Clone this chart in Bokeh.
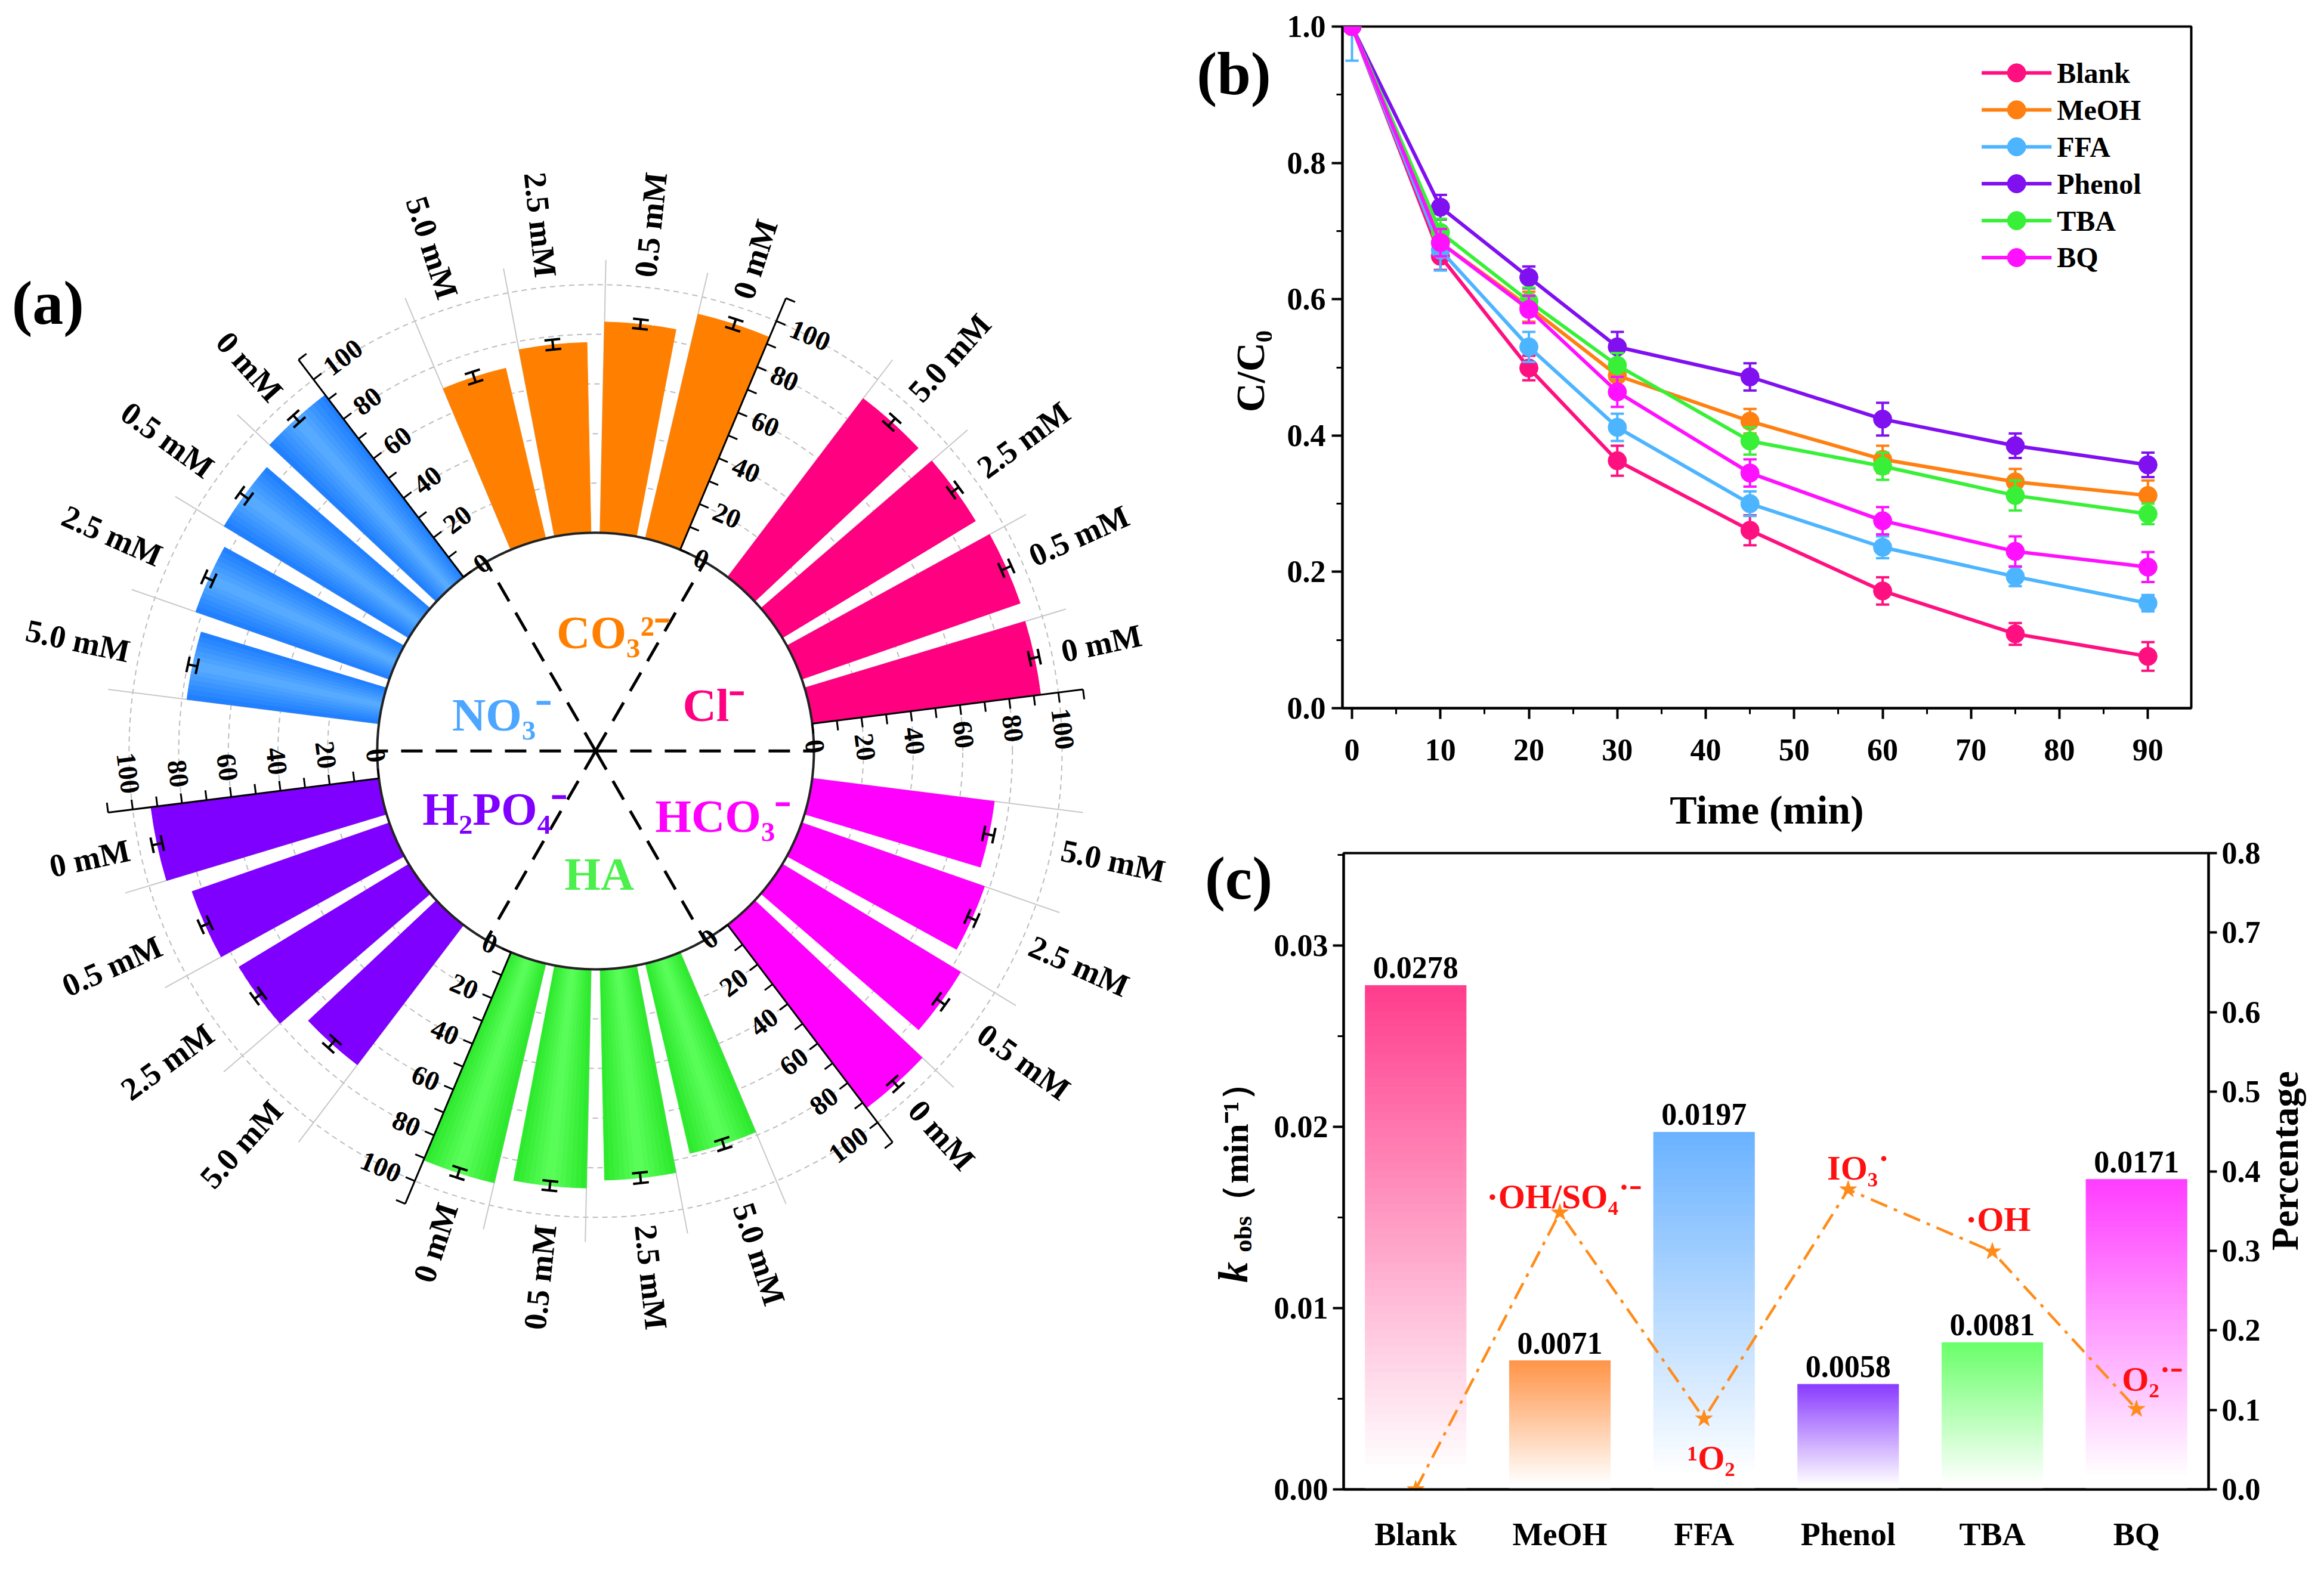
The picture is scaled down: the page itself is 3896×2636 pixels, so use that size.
import numpy as np

from bokeh.plotting import figure
from bokeh.layouts import row, column
from bokeh.models import (ColumnDataSource, Range1d, FactorRange, LinearAxis, Label,
                          FixedTicker, NumeralTickFormatter)
from bokeh.core.properties import value
from bokeh.embed import file_html
from bokeh.resources import INLINE

FONT = "Liberation Serif"

# ---------------- (a) removal (%) with co-existing anions ----------------
conc_labels = ["0 mM", "0.5 mM", "2.5 mM", "5.0 mM"]
ion_names = ["Cl⁻", "CO₃²⁻", "NO₃⁻", "H₂PO₄⁻", "HA", "HCO₃⁻"]
ion_colors = ["#FF0080", "#FF8000", "#3A95FF", "#8000FF", "#3CF53C", "#FF00FF"]
ion_text_colors = ["#FF0080", "#FF8000", "#4DA6FF", "#8000FF", "#4CF04C", "#FF00FF"]

removal_cl = [92.8, 93.2, 91.0, 90.4]
removal_co3 = [92.9, 85.0, 76.7, 70.5]
removal_no3 = [92.2, 87.0, 82.6, 78.0]
removal_h2po4 = [92.6, 84.2, 80.0, 70.8]
removal_ha = [90.8, 88.2, 85.0, 78.6]
removal_hco3 = [92.6, 84.0, 78.0, 74.0]

err_cl = [2.0, 2.2, 1.9, 2.1]
err_co3 = [2.1, 1.9, 2.0, 2.2]
err_no3 = [1.9, 2.2, 2.0, 1.9]
err_h2po4 = [2.1, 2.0, 1.9, 2.2]
err_ha = [2.0, 1.9, 2.1, 2.0]
err_hco3 = [1.9, 2.1, 2.0, 2.1]

# ---------------- (b) C/C0 vs time with scavengers ----------------
time_min = [0, 10, 20, 30, 45, 60, 75, 90]
scavengers = ["Blank", "MeOH", "FFA", "Phenol", "TBA", "BQ"]
line_colors = ["#FF1080", "#FF8010", "#4DB5FF", "#8010F0", "#38F038", "#FF10FF"]

ct_blank = [1.0, 0.663, 0.499, 0.363, 0.261, 0.172, 0.109, 0.076]
ct_meoh = [1.0, 0.683, 0.589, 0.488, 0.421, 0.365, 0.332, 0.312]
ct_ffa = [1.0, 0.672, 0.530, 0.412, 0.300, 0.236, 0.193, 0.154]
ct_phenol = [1.0, 0.735, 0.632, 0.530, 0.486, 0.424, 0.385, 0.357]
ct_tba = [1.0, 0.698, 0.597, 0.503, 0.392, 0.355, 0.312, 0.285]
ct_bq = [1.0, 0.683, 0.585, 0.464, 0.345, 0.275, 0.230, 0.207]

err_blank = [0.008, 0.020, 0.018, 0.022, 0.022, 0.020, 0.016, 0.021]
err_meoh = [0.006, 0.018, 0.022, 0.020, 0.018, 0.020, 0.019, 0.022]
err_ffa = [0.050, 0.030, 0.022, 0.020, 0.018, 0.016, 0.014, 0.012]
err_phenol = [0.005, 0.018, 0.016, 0.022, 0.020, 0.024, 0.018, 0.018]
err_tba = [0.006, 0.020, 0.020, 0.018, 0.020, 0.020, 0.022, 0.015]
err_bq = [0.006, 0.020, 0.020, 0.022, 0.020, 0.020, 0.022, 0.022]

# ---------------- (c) k_obs and contribution ----------------
k_obs = [0.0278, 0.0071, 0.0197, 0.0058, 0.0081, 0.0171]
percentage = [0.0, 0.348, 0.089, 0.377, 0.299, 0.101]
species = ["", "·OH/SO₄˙⁻", "¹O₂", "IO₃˙", "·OH", "O₂˙⁻"]
bar_colors = ["#FF3D8C", "#FF9448", "#6AB2FF", "#8A3BFF", "#6AFF6A", "#FF3DFF"]


def blend(c1, c2, t):
    a = [int(c1[i:i + 2], 16) for i in (1, 3, 5)]
    b = [int(c2[i:i + 2], 16) for i in (1, 3, 5)]
    return "#%02x%02x%02x" % tuple(int(round(x + (y - x) * t)) for x, y in zip(a, b))


def pol(r, deg):
    t = np.deg2rad(deg)
    return r * np.cos(t), r * np.sin(t)


# =====================================================================
# (a) polar bar chart
# =====================================================================
R0 = 88.0                 # inner radius (value 0)
SLOT, BAR_W = 12.0, 9.6   # degrees
AX_OFF = SLOT - BAR_W / 2

groups = [removal_cl, removal_co3, removal_no3, removal_h2po4, removal_ha, removal_hco3]
group_err = [err_cl, err_co3, err_no3, err_h2po4, err_ha, err_hco3]

pa = figure(width=2000, height=2620, x_range=Range1d(-239.9, 240.9),
            y_range=Range1d(-327.2, 302.6), output_backend="svg",
            toolbar_location=None, min_border=0)
pa.axis.visible = False
pa.grid.visible = False
pa.outline_line_color = None

rings = [R0 + v for v in range(20, 101, 20)]
pa.arc(x=0, y=0, radius=rings, start_angle=0, end_angle=2 * np.pi,
       line_color="#BDBDBD", line_width=2, line_dash="9 7")

gl = dict(x0=[], y0=[], x1=[], y1=[])
for g in range(6):
    for j in range(4):
        a = 60 * g + SLOT * (j + 1) + BAR_W / 2
        x0, y0 = pol(R0, a)
        x1, y1 = pol(R0 + 110, a)
        gl["x0"].append(x0); gl["y0"].append(y0); gl["x1"].append(x1); gl["y1"].append(y1)
pa.segment(x0="x0", y0="y0", x1="x1", y1="y1", source=ColumnDataSource(gl),
           line_color="#C8C8C8", line_width=2)

shade = {2: ("#1C7CFF", "#5AAEFF"), 4: ("#2BE82B", "#5CFF5C")}
wd = dict(start=[], end=[], outer=[], color=[])
for g, vals in enumerate(groups):
    for j, v in enumerate(vals):
        c = 60 * g + SLOT * (j + 1)
        a0, a1 = c - BAR_W / 2, c + BAR_W / 2
        n = 14 if g in shade else 1
        for k in range(n):
            s0 = a0 + (a1 - a0) * k / n
            s1 = a0 + (a1 - a0) * (k + 1) / n
            if g in shade:
                t = 1 - abs((k + 0.5) / n - 0.5) * 2
                col = blend(shade[g][0], shade[g][1], t)
            else:
                col = ion_colors[g]
            wd["start"].append(np.deg2rad(s0))
            wd["end"].append(np.deg2rad(s1))
            wd["outer"].append(R0 + v)
            wd["color"].append(col)
pa.annular_wedge(x=0, y=0, inner_radius=R0, outer_radius="outer",
                 start_angle="start", end_angle="end", fill_color="color",
                 line_color="color", line_width=1, source=ColumnDataSource(wd))

eb = dict(x0=[], y0=[], x1=[], y1=[])
CAP = 3.2
for g, vals in enumerate(groups):
    for j, v in enumerate(vals):
        c = 60 * g + SLOT * (j + 1)
        e = group_err[g][j]
        for r in (R0 + v - e, R0 + v + e):
            px, py = pol(r, c)
            tx, ty = pol(CAP, c + 90)
            eb["x0"].append(px - tx); eb["y0"].append(py - ty)
            eb["x1"].append(px + tx); eb["y1"].append(py + ty)
        x0, y0 = pol(R0 + v - e, c)
        x1, y1 = pol(R0 + v + e, c)
        eb["x0"].append(x0); eb["y0"].append(y0); eb["x1"].append(x1); eb["y1"].append(y1)
pa.segment(x0="x0", y0="y0", x1="x1", y1="y1", source=ColumnDataSource(eb),
           line_color="black", line_width=4)

pa.arc(x=0, y=0, radius=R0, start_angle=0, end_angle=2 * np.pi,
       line_color="#222222", line_width=4)
sp = dict(x1=[], y1=[])
for g in range(6):
    x1, y1 = pol(R0, 60 * g)
    sp["x1"].append(x1); sp["y1"].append(y1)
pa.segment(x0=0, y0=0, x1="x1", y1="y1", source=ColumnDataSource(sp),
           line_color="black", line_width=5, line_dash="36 22")

ax = dict(x0=[], y0=[], x1=[], y1=[])
lab_l = dict(x=[], y=[], text=[], angle=[])
lab_r = dict(x=[], y=[], text=[], angle=[])
TICK, LOFF = 4.0, 6.5
for g in range(6):
    th = 60 * g + AX_OFF
    x0, y0 = pol(R0, th)
    x1, y1 = pol(R0 + 110, th)
    ax["x0"].append(x0); ax["y0"].append(y0); ax["x1"].append(x1); ax["y1"].append(y1)
    ux, uy = pol(1.0, th - 90)
    for v in range(0, 111, 10):
        bx, by = pol(R0 + v, th)
        ax["x0"].append(bx); ax["y0"].append(by)
        ax["x1"].append(bx + TICK * ux); ax["y1"].append(by + TICK * uy)
        if v % 20 == 0 and v <= 100:
            ang = th - 90
            tgt = lab_l
            if ang > 90:
                ang -= 180
                tgt = lab_r
            tgt["x"].append(bx + LOFF * ux); tgt["y"].append(by + LOFF * uy)
            tgt["text"].append(str(v)); tgt["angle"].append(np.deg2rad(ang))
pa.segment(x0="x0", y0="y0", x1="x1", y1="y1", source=ColumnDataSource(ax),
           line_color="black", line_width=3)
for src, al in ((lab_l, "left"), (lab_r, "right")):
    pa.text(x="x", y="y", text="text", angle="angle", source=ColumnDataSource(src),
            text_font=value(FONT), text_font_style="bold", text_font_size="46px",
            text_align=al, text_baseline="middle", text_color="black")

cl_l = dict(x=[], y=[], text=[], angle=[])
cl_r = dict(x=[], y=[], text=[], angle=[])
for g in range(6):
    for j in range(4):
        c = 60 * g + SLOT * (j + 1)
        px, py = pol(R0 + 104, c)
        if 90 < c < 270:
            tgt, ang = cl_r, c - 180
        else:
            tgt, ang = cl_l, c
        tgt["x"].append(px); tgt["y"].append(py)
        tgt["text"].append(conc_labels[j]); tgt["angle"].append(np.deg2rad(ang))
for src, al in ((cl_l, "left"), (cl_r, "right")):
    pa.text(x="x", y="y", text="text", angle="angle", source=ColumnDataSource(src),
            text_font=value(FONT), text_font_style="bold", text_font_size="54px",
            text_align=al, text_baseline="middle", text_color="black")

ion_xy = [(47.6, 18.4), (7.1, 47.8), (-37.8, 14.7), (-40.7, -23.3), (1.5, -49.6), (51.3, -26.2)]
pa.text(x=[p[0] for p in ion_xy], y=[p[1] for p in ion_xy], text=ion_names,
        text_color=ion_text_colors, text_font=value(FONT), text_font_style="bold",
        text_font_size="78px", text_align="center", text_baseline="middle")

pa.add_layout(Label(x=-220.7, y=180.8, text="(a)", text_font=FONT, text_font_style="bold",
                    text_font_size="104px", text_align="center", text_baseline="middle",
                    text_color="black"))


def style_axis(a, size="52px"):
    a.axis_line_width = 4
    a.major_tick_line_width = 4
    a.minor_tick_line_width = 3
    a.major_tick_in = 0
    a.major_tick_out = 18
    a.minor_tick_in = 0
    a.minor_tick_out = 10
    a.major_label_text_font = FONT
    a.major_label_text_font_style = "bold"
    a.major_label_text_font_size = size
    a.major_label_text_color = "black"
    a.axis_label_text_font = FONT
    a.axis_label_text_font_style = "bold"
    a.axis_label_text_font_size = "68px"
    a.axis_label_text_color = "black"


def text_strip(width, height):
    s = figure(width=width, height=height, x_range=Range1d(0, width),
               y_range=Range1d(0, height), output_backend="svg",
               toolbar_location=None, min_border=0)
    s.axis.visible = False
    s.grid.visible = False
    s.outline_line_color = None
    return s


# =====================================================================
# (b) kinetics with scavengers
# =====================================================================
pb = figure(width=1748, height=1398, x_range=Range1d(-1.08, 94.9), y_range=Range1d(0, 1.0),
            output_backend="svg", toolbar_location=None,
            min_border_left=118, min_border_right=207, min_border_top=44, min_border_bottom=210)
pb.grid.visible = False
pb.outline_line_color = "black"
pb.outline_line_width = 4
pb.xaxis.ticker = FixedTicker(ticks=list(range(0, 91, 10)), minor_ticks=list(range(5, 90, 10)))
pb.yaxis.ticker = FixedTicker(ticks=[0, 0.2, 0.4, 0.6, 0.8, 1.0],
                              minor_ticks=[0.1, 0.3, 0.5, 0.7, 0.9])
pb.yaxis.formatter = NumeralTickFormatter(format="0.0")
for a in pb.xaxis + pb.yaxis:
    style_axis(a)
pb.xaxis.axis_label = "Time (min)"
pb.xaxis.axis_label_standoff = 42
pb.xaxis.major_label_standoff = 34
pb.yaxis.major_label_standoff = 10

curves = [ct_blank, ct_meoh, ct_ffa, ct_phenol, ct_tba, ct_bq]
curve_err = [err_blank, err_meoh, err_ffa, err_phenol, err_tba, err_bq]
for name, col, vals, err in zip(scavengers, line_colors, curves, curve_err):
    lo = [v - e for v, e in zip(vals, err)]
    hi = [v + e for v, e in zip(vals, err)]
    pb.segment(x0=time_min, y0=lo, x1=time_min, y1=hi, line_color=col, line_width=4)
    for ends in (lo, hi):
        pb.segment(x0=[t - 0.75 for t in time_min], y0=ends, x1=[t + 0.75 for t in time_min],
                   y1=ends, line_color=col, line_width=4)
    pb.line(time_min, vals, line_color=col, line_width=6)
    pb.scatter(time_min, vals, size=31, fill_color=col, line_color=col)

# legend drawn in the frame
LEG_X0, LEG_X1, LEG_Y0, LEG_DY = 71.2, 79.1, 0.932, 0.0542
leg_y = [LEG_Y0 - i * LEG_DY for i in range(len(scavengers))]
pb.segment(x0=LEG_X0, y0=leg_y, x1=LEG_X1, y1=leg_y, line_color=line_colors, line_width=6)
pb.scatter(x=(LEG_X0 + LEG_X1) / 2, y=leg_y, size=31, fill_color=line_colors,
           line_color=line_colors)
pb.text(x=LEG_X1 + 0.6, y=leg_y, text=scavengers, text_font=value(FONT),
        text_font_style="bold", text_font_size="48px", text_baseline="middle",
        text_align="left", text_color="black")

# =====================================================================
# (c) rate constants and radical contributions
# =====================================================================
pc = figure(width=1660, height=1222, x_range=FactorRange(factors=scavengers, range_padding=0),
            y_range=Range1d(0, 0.0351), output_backend="svg", toolbar_location=None,
            min_border_left=120, min_border_right=89, min_border_top=32, min_border_bottom=123)
pc.grid.visible = False
pc.outline_line_color = "black"
pc.outline_line_width = 4
pc.extra_y_ranges = {"pct": Range1d(0, 0.8)}

xc = [i + 0.5 for i in range(len(scavengers))]   # category centres
NS = 60
bs = dict(x=[], bottom=[], top=[], color=[])
for xi, v, col in zip(xc, k_obs, bar_colors):
    for s in range(NS):
        f = (s + 0.5) / NS
        t = min(1.0, max(0.0, (f - 0.04) / 0.96))
        bs["x"].append(xi)
        bs["bottom"].append(v * s / NS)
        bs["top"].append(v * (s + 1) / NS)
        bs["color"].append(blend("#FFFFFF", col, t))
pc.vbar(x="x", bottom="bottom", top="top", width=0.7, fill_color="color",
        line_color="color", line_width=1, source=ColumnDataSource(bs))

pc.text(x=xc, y=[v + 0.0004 for v in k_obs], text=["%.4f" % v for v in k_obs],
        text_font=value(FONT), text_font_style="bold", text_font_size="52px",
        text_align="center", text_baseline="bottom", text_color="black")

pc.line(xc, percentage, y_range_name="pct", line_color="#FF8C1A", line_width=4.5,
        line_dash="30 12 6 12")
pc.scatter(xc, percentage, y_range_name="pct", marker="star", size=30,
           fill_color="#FF8C1A", line_color="#FF8C1A")

sp_dx = [0.0, 0.03, 0.05, 0.07, 0.04, 0.11]
sp_dy = [0.0, 0.020, -0.049, 0.027, 0.041, 0.038]
pc.text(x=[x + d for x, d in zip(xc[1:], sp_dx[1:])],
        y=[p + d for p, d in zip(percentage[1:], sp_dy[1:])], text=species[1:],
        y_range_name="pct", text_color="#FF1010", text_font=value(FONT),
        text_font_style="bold", text_font_size="58px", text_align="center",
        text_baseline="middle")

pc.yaxis.ticker = FixedTicker(ticks=[0.0, 0.01, 0.02, 0.03],
                              minor_ticks=[0.005, 0.015, 0.025, 0.035])
pc.yaxis.formatter = NumeralTickFormatter(format="0.00")
right = LinearAxis(y_range_name="pct",
                   ticker=FixedTicker(ticks=[0.0, 0.1, 0.2, 0.3, 0.4, 0.5, 0.6, 0.7, 0.8]),
                   formatter=NumeralTickFormatter(format="0.0"))
pc.add_layout(right, "right")
for a in pc.xaxis + pc.yaxis:
    style_axis(a)
pc.xaxis.major_tick_out = 0
pc.xaxis.major_label_standoff = 45
pc.xaxis.major_label_text_font_size = "54px"
pc.yaxis.major_label_standoff = 8
right.major_tick_out = 14
right.minor_tick_out = 0

# =====================================================================
# text strips beside (b)/(c): panel letters and axis titles
# (strip y = 2628 - page y, x measured from the strip's left edge)
# =====================================================================
sl = text_strip(132, 2620)
for txt, x, y, size, style, ang in (("(b)", 68, 2497, "102px", "bold", 0.0),
                                    ("C/C₀", 95, 1998, "68px", "bold", np.pi / 2),
                                    ("(c)", 76, 1148, "102px", "bold", 0.0),
                                    ("（min⁻¹）", 71, 705, "60px", "bold", np.pi / 2),
                                    ("obs", 83, 551, "42px", "bold", np.pi / 2),
                                    ("k", 67, 487, "70px", "bold italic", np.pi / 2)):
    sl.text(x=[x], y=[y], text=[txt], angle=ang, text_font=value(FONT),
            text_font_style=style, text_font_size=size, text_color="black",
            text_align="center", text_baseline="middle")

sr = text_strip(88, 1222)
sr.text(x=[38], y=[631], text=["Percentage"], angle=np.pi / 2, text_font=value(FONT),
        text_font_style="bold", text_font_size="64px", text_color="black",
        text_align="center", text_baseline="middle")

layout = row(pa, sl, column(pb, row(pc, sr)))
open("out.html", "w").write(file_html(layout, INLINE, title="plot"))
